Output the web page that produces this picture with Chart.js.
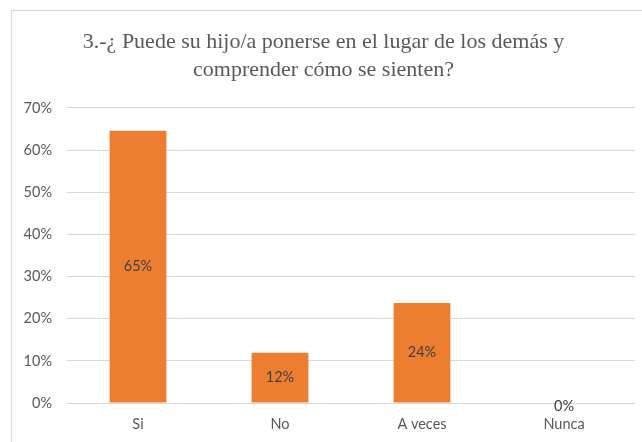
<!DOCTYPE html>
<html>
<head>
<meta charset="utf-8">
<script src="https://cdn.jsdelivr.net/npm/chart.js@4"></script>
<style>
    html, body { margin: 0; padding: 0; background: #fff; }
    #wrap { position: relative; width: 642px; height: 442px; overflow: hidden; }
    #frame {
        position: absolute; left: 11px; top: 10px; width: 700px; height: 500px;
        border-top: 1px solid #d9d9d9; border-left: 1px solid #d9d9d9;
    }
    canvas { position: absolute; left: 0; top: 0; }
</style>
</head>
<body>
<div id="wrap">
    <div id="frame"></div>
    <canvas id="chart" width="642" height="442"></canvas>
</div>
<script>
// Chart data
const categories = ['Si', 'No', 'A veces', 'Nunca'];
const percentages = [64.6, 11.9, 23.7, 0];
const valueLabels = ['65%', '12%', '24%', '0%'];
const yTicks = [0, 10, 20, 30, 40, 50, 60, 70];

const labelFont = 'Lato, "Noto Sans", sans-serif';

// Draw value labels in the middle of each bar
const barLabels = {
    id: 'barLabels',
    afterDatasetsDraw(chart) {
        const ctx = chart.ctx;
        const meta = chart.getDatasetMeta(0);
        ctx.save();
        ctx.font = '14.5px ' + labelFont;
        ctx.fillStyle = '#404040';
        ctx.textAlign = 'center';
        ctx.textBaseline = 'middle';
        meta.data.forEach((bar, i) => {
            let y = (bar.y + bar.base) / 2;
            if (percentages[i] === 0) y += 3;
            ctx.fillText(valueLabels[i], bar.x, y);
        });
        ctx.restore();
    }
};

new Chart(document.getElementById('chart'), {
    type: 'bar',
    data: {
        labels: categories,
        datasets: [{
            data: percentages,
            backgroundColor: '#ed7d31',
            borderWidth: 0,
            categoryPercentage: 1,
            barPercentage: 0.4
        }]
    },
    options: {
        responsive: false,
        animation: false,
        layout: { padding: { top: 28, left: 12, right: 7, bottom: 0 } },
        plugins: {
            legend: { display: false },
            tooltip: { enabled: false },
            title: {
                display: true,
                text: ['3.-¿ Puede su hijo/a ponerse en el lugar de los demás y', 'comprender cómo se sienten?'],
                color: '#595959',
                font: { family: '"Liberation Serif", "Times New Roman", serif', size: 22, weight: 'normal', lineHeight: 1.27 },
                padding: { top: 0, bottom: 24 }
            }
        },
        scales: {
            x: {
                grid: { display: false, drawTicks: false },
                border: { display: false },
                ticks: {
                    color: '#595959',
                    font: { family: labelFont, size: 14.5 },
                    padding: 13
                },
                afterFit(scale) { scale.height = 39; }
            },
            y: {
                min: 0,
                max: 70,
                afterBuildTicks(scale) { scale.ticks = yTicks.map(v => ({ value: v })); },
                grid: { color: '#d9d9d9', drawTicks: false },
                border: { display: false },
                ticks: {
                    color: '#595959',
                    font: { family: labelFont, size: 14.5 },
                    padding: 15,
                    callback: v => v + '%'
                },
                afterFit(scale) { scale.width = 55; }
            }
        }
    },
    plugins: [barLabels]
});
</script>
</body>
</html>
